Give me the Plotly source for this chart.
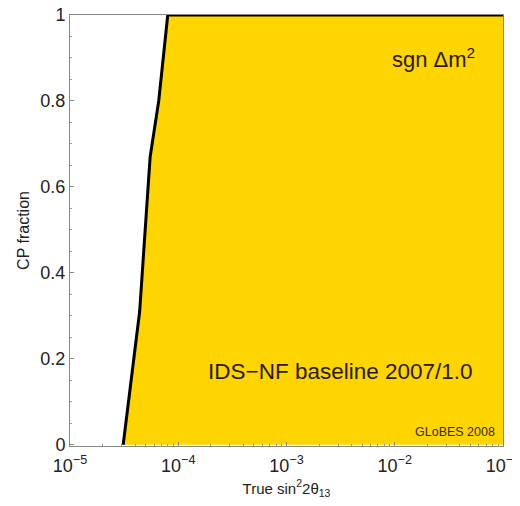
import plotly.graph_objects as go

# Boundary of the sgn(Δm²) sensitivity region
boundary_x = [3.1e-5, 4.4e-5, 5.5e-5, 6.6e-5, 8.0e-5]
boundary_y = [0.0, 0.31, 0.67, 0.80, 1.0]
x_min, x_max = 1e-5, 1e-1

xtick_vals = [1e-5, 1e-4, 1e-3, 1e-2, 1e-1]
xtick_text = ["10<sup>−5</sup>", "10<sup>−4</sup>", "10<sup>−3</sup>", "10<sup>−2</sup>", "10<sup>−1</sup>"]
ytick_vals = [0, 0.2, 0.4, 0.6, 0.8, 1.0]
ytick_text = ["0", "0.2", "0.4", "0.6", "0.8", "1"]

FONT = "Liberation Sans, Arial, sans-serif"
fill_x = boundary_x + [x_max, x_max]
fill_y = boundary_y + [boundary_y[-1], boundary_y[0]]

fig = go.Figure()
fig.add_trace(go.Scatter(x=fill_x, y=fill_y, fill="toself", mode="none",
                         fillcolor="#FFD500", hoverinfo="skip", showlegend=False))
fig.add_trace(go.Scatter(x=boundary_x + [x_max], y=boundary_y + [boundary_y[-1]], mode="lines",
                         line=dict(color="black", width=3), showlegend=False))

fig.add_annotation(x=0.84, y=0.90, xref="paper", yref="paper", text="sgn Δm<sup>2</sup>",
                   xanchor="center", yanchor="middle",
                   showarrow=False, font=dict(family=FONT, size=22, color="#2a1a00"))
fig.add_annotation(x=0.624, y=0.172, xref="paper", yref="paper", text="IDS−NF baseline 2007/1.0",
                   xanchor="center", yanchor="middle",
                   showarrow=False, font=dict(family=FONT, size=22.5, color="#2a1a00"))
fig.add_annotation(x=0.889, y=0.032, xref="paper", yref="paper", text="GLoBES 2008",
                   xanchor="center", yanchor="middle",
                   showarrow=False, font=dict(family=FONT, size=12.5, color="#3a2a00"))

fig.update_layout(
    width=512, height=498,
    margin=dict(l=62, r=17, t=7, b=60, autoexpand=False),
    paper_bgcolor="white", plot_bgcolor="white",
    font=dict(family=FONT, size=18, color="#222"),
    xaxis=dict(type="log", range=[-5, -1], tickvals=xtick_vals, ticktext=xtick_text,
               showgrid=False, zeroline=False, showline=True, linecolor="#888", linewidth=1,
               mirror=True, ticks="inside", ticklen=4, tickcolor="#888",
               minor=dict(ticks="inside", ticklen=2, tickcolor="#999",
                          tickvals=[m * 10 ** e for e in range(-5, -1) for m in range(2, 10)]),
               title=dict(text="True sin<sup>2</sup>2θ<sub>13</sub>", font=dict(size=15), standoff=8),
               tickfont=dict(size=18), ticklabeloverflow="allow", ticklabelstandoff=3),
    yaxis=dict(range=[-0.003, 1.0], tickvals=ytick_vals, ticktext=ytick_text,
               showgrid=False, zeroline=False, showline=True, linecolor="#888", linewidth=1,
               mirror=True, ticks="inside", ticklen=4, tickcolor="#888",
               minor=dict(ticks="inside", ticklen=2, tickcolor="#999", dtick=0.05),
               title=dict(text="CP fraction", font=dict(size=16), standoff=6),
               tickfont=dict(size=18), ticklabeloverflow="allow"),
)
fig.write_html("out.html")
